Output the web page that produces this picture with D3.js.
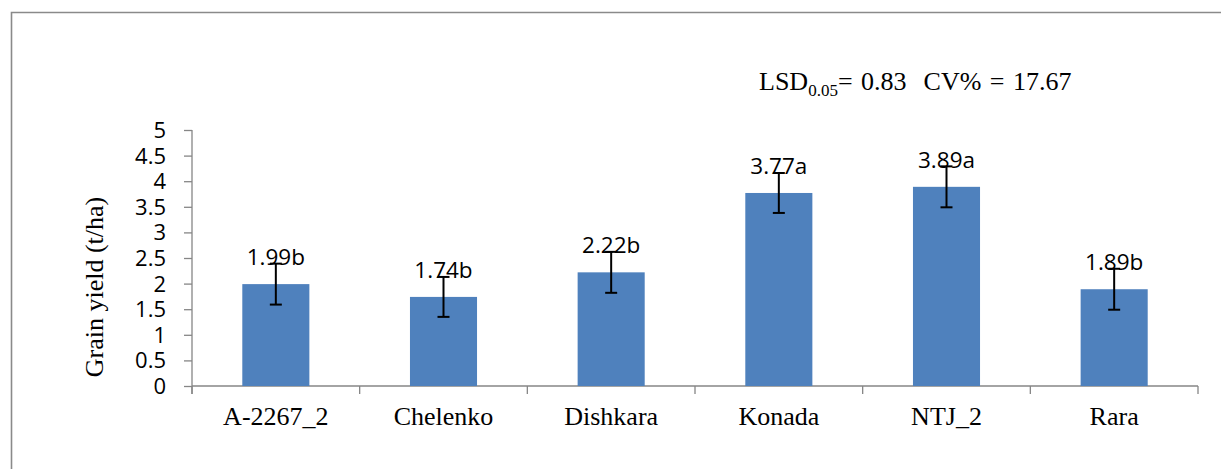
<!DOCTYPE html>
<html><head><meta charset="utf-8">
<script src="https://cdn.jsdelivr.net/npm/d3@7"></script>
<style>body{margin:0;background:#fff}svg{display:block}
.serif{font-family:"Liberation Serif","DejaVu Serif","Times New Roman",serif}
.sans{font-family:"Open Sans","Liberation Sans",sans-serif}</style>
</head><body>
<script>
const categories = ["A-2267_2","Chelenko","Dishkara","Konada","NTJ_2","Rara"];
const yields = [1.99,1.74,2.22,3.77,3.89,1.89];
const letters = ["b","b","b","a","a","b"];
const errors = [0.40,0.39,0.40,0.39,0.40,0.40];
const yTicks = [0,0.5,1,1.5,2,2.5,3,3.5,4,4.5,5];
const yTickLabels = ["0","0.5","1","1.5","2","2.5","3","3.5","4","4.5","5"];

const W = 1221, H = 469;
const svg = d3.select("body").append("svg").attr("width", W).attr("height", H);

// outer frame
svg.append("path").attr("d", `M11.5,${H} V12.5 H${W}`).attr("fill","none")
  .attr("stroke","#8a8a8a").attr("stroke-width",1.6);

const x0 = 192, x1 = 1198, yTop = 130, yBot = 386;
const x = d3.scaleBand().domain(categories).range([x0, x1]).padding(0);
const y = d3.scaleLinear().domain([0,5]).range([yBot, yTop]);
const axisColor = "#868686";

// y axis
const yAxis = svg.append("g").attr("transform",`translate(${x0},0)`)
  .call(d3.axisLeft(y).tickValues(yTicks).tickSize(8).tickPadding(18)
    .tickFormat((d,i)=>yTickLabels[i]));
yAxis.attr("font-family",null).attr("font-size",null);
yAxis.select(".domain").remove();
yAxis.selectAll(".tick line").attr("stroke",axisColor).attr("stroke-width",1.3);
yAxis.selectAll(".tick text").attr("class","sans").style("font-size","22px")
  .attr("fill","#000").attr("dy","0.34em");
svg.append("line").attr("x1",x0).attr("x2",x0).attr("y1",yTop).attr("y2",yBot+8)
  .attr("stroke",axisColor).attr("stroke-width",1.3);

// x axis
svg.append("line").attr("x1",x0).attr("x2",x1).attr("y1",yBot).attr("y2",yBot)
  .attr("stroke",axisColor).attr("stroke-width",1.3);
const bounds = categories.map(c=>x(c)).concat([x1]);
svg.selectAll(".xt").data(bounds).enter().append("line")
  .attr("x1",d=>d).attr("x2",d=>d).attr("y1",yBot).attr("y2",yBot+8)
  .attr("stroke",axisColor).attr("stroke-width",1.3);
svg.selectAll(".xl").data(categories).enter().append("text")
  .attr("class","serif").style("font-size","26px")
  .attr("x",d=>x(d)+x.bandwidth()/2).attr("y",425)
  .attr("text-anchor","middle").text(d=>d);

// bars
const bw = x.bandwidth()*0.4;
svg.selectAll(".bar").data(categories).enter().append("rect")
  .attr("x",d=>x(d)+x.bandwidth()/2-bw/2).attr("width",bw)
  .attr("y",(d,i)=>y(yields[i])).attr("height",(d,i)=>y(0)-y(yields[i]))
  .attr("fill","#4F81BD");

// value labels
svg.selectAll(".vl").data(categories).enter().append("text")
  .attr("class","sans").style("font-size","22.5px")
  .attr("x",d=>x(d)+x.bandwidth()/2).attr("y",(d,i)=>y(yields[i])-19)
  .attr("text-anchor","middle")
  .text((d,i)=>yields[i].toFixed(2)+letters[i]);

// error bars
const eb = svg.selectAll(".eb").data(categories).enter().append("g");
eb.append("line").attr("x1",d=>x(d)+x.bandwidth()/2).attr("x2",d=>x(d)+x.bandwidth()/2)
  .attr("y1",(d,i)=>y(yields[i]+errors[i])).attr("y2",(d,i)=>y(yields[i]-errors[i]))
  .attr("stroke","#000").attr("stroke-width",2);
[1,-1].forEach(s=>{
  eb.append("line").attr("x1",d=>x(d)+x.bandwidth()/2-6).attr("x2",d=>x(d)+x.bandwidth()/2+6)
    .attr("y1",(d,i)=>y(yields[i]+s*errors[i])).attr("y2",(d,i)=>y(yields[i]+s*errors[i]))
    .attr("stroke","#000").attr("stroke-width",2);
});

// y title
svg.append("text").attr("class","serif").style("font-size","26px")
  .attr("transform","translate(103,287) rotate(-90)")
  .attr("text-anchor","middle").text("Grain yield (t/ha)");

// annotation
const ann = svg.append("text").attr("class","serif").style("font-size","26px")
  .attr("x",759).attr("y",90).style("white-space","pre").style("word-spacing","2px");
ann.append("tspan").text("LSD");
ann.append("tspan").style("font-size","17px").attr("dy",6).text("0.05");
ann.append("tspan").attr("dy",-6).text("= 0.83  CV% = 17.67");
</script>
</body></html>
